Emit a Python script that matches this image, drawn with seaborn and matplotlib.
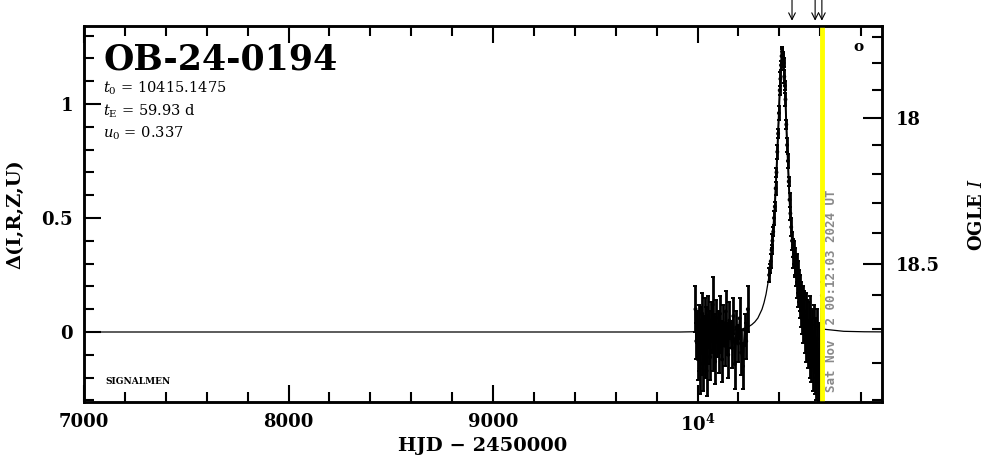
import numpy as np
import pandas as pd
import seaborn as sns
import matplotlib.pyplot as plt
from matplotlib.ticker import MultipleLocator, FixedLocator

# --- event info ---
event_name = "OB-24-0194"
t0_text = "10415.1475"
te_text = "59.93 d"
u0_text = "0.337"
now_hjd = 10611
now_label = "Sat Nov  2 00:12:03 2024 UT"
arrow_hjd = [10462, 10575, 10608]

# --- model curve ---
model_t = [7000, 9915, 10115, 10215, 10245, 10265, 10280, 10295, 10315, 10325,
           10335, 10345, 10355, 10365, 10375, 10380, 10385, 10390, 10395, 10400,
           10405, 10410, 10415, 10420, 10425, 10430, 10435, 10440, 10445, 10450,
           10455, 10465, 10475, 10485, 10495, 10505, 10515, 10535, 10550, 10565,
           10585, 10615, 10715, 10815, 10900]
model_d = [0.0, 0.0, 0.003, 0.0125, 0.021, 0.032, 0.044, 0.061, 0.099, 0.128,
           0.166, 0.218, 0.288, 0.384, 0.512, 0.592, 0.683, 0.785, 0.896, 1.011,
           1.117, 1.196, 1.225, 1.196, 1.117, 1.011, 0.896, 0.785, 0.683, 0.592,
           0.512, 0.384, 0.288, 0.218, 0.166, 0.128, 0.099, 0.061, 0.044, 0.032,
           0.021, 0.0125, 0.003, 0.001, 0.0005]

# --- observations: baseline season ---
base_t = [9990, 9994, 9998, 10002, 10005, 10008, 10011, 10014, 10017, 10020,
          10023, 10026, 10029, 10032, 10035, 10038, 10041, 10044, 10047, 10050,
          10054, 10058, 10062, 10066, 10070, 10074, 10078, 10082, 10086, 10090,
          10095, 10100, 10105, 10110, 10115, 10120, 10126, 10132, 10138, 10144,
          10150, 10156, 10162, 10168, 10175, 10182, 10190, 10198, 10206, 10214,
          10222, 10230, 10238, 10246]
base_d = [0.10, -0.04, 0.02, -0.12, -0.07, 0.05, -0.16, -0.02, 0.03, -0.09,
          0.08, -0.14, 0.00, -0.05, 0.06, -0.10, 0.04, -0.17, -0.01, 0.07,
          -0.06, 0.02, -0.11, 0.05, -0.03, 0.12, -0.08, 0.01, -0.13, 0.06,
          -0.04, 0.03, -0.09, 0.08, -0.02, -0.12, 0.04, -0.06, 0.09, -0.03,
          -0.10, 0.05, -0.01, -0.07, 0.07, -0.14, 0.02, -0.05, 0.06, -0.09,
          -0.15, 0.01, -0.04, 0.10]
base_e = [0.10, 0.08, 0.07, 0.09, 0.10, 0.07, 0.11, 0.06, 0.08, 0.10,
          0.09, 0.12, 0.07, 0.08, 0.09, 0.10, 0.07, 0.11, 0.06, 0.09,
          0.08, 0.07, 0.10, 0.08, 0.06, 0.12, 0.09, 0.07, 0.10, 0.08,
          0.07, 0.06, 0.09, 0.08, 0.07, 0.10, 0.08, 0.09, 0.09, 0.07,
          0.10, 0.08, 0.06, 0.09, 0.08, 0.11, 0.07, 0.08, 0.09, 0.10,
          0.10, 0.07, 0.08, 0.10]

# --- observations: event season ---
peak_t = [10350, 10354, 10358, 10362, 10366, 10370, 10374, 10378, 10382, 10386,
          10390, 10394, 10398, 10402, 10405, 10408, 10411, 10413, 10415, 10417,
          10419, 10421, 10424, 10427, 10430, 10434, 10438, 10442, 10446, 10450,
          10454, 10458, 10462,
          10466, 10469, 10472, 10475, 10478, 10481, 10484, 10487, 10490, 10493,
          10496, 10499, 10502, 10505, 10508, 10511, 10514, 10517, 10520, 10524,
          10528, 10532, 10536, 10540, 10544, 10548, 10552, 10556, 10560, 10564,
          10568, 10572, 10576, 10580, 10584, 10588, 10592, 10596, 10600, 10608]
peak_d = [0.25, 0.28, 0.31, 0.36, 0.40, 0.44, 0.50, 0.55, 0.63, 0.70,
          0.79, 0.87, 0.96, 1.06, 1.11, 1.17, 1.21, 1.23, 1.22, 1.21,
          1.19, 1.18, 1.12, 1.08, 1.02, 0.91, 0.82, 0.75, 0.66, 0.58,
          0.52, 0.46, 0.40,
          0.37, 0.33, 0.35, 0.29, 0.31, 0.25, 0.28, 0.21, 0.24, 0.17,
          0.20, 0.13, 0.17, 0.09, 0.14, 0.06, 0.11, 0.03, 0.09, -0.01,
          0.07, -0.04, 0.04, -0.07, 0.02, -0.10, 0.05, -0.12, -0.02, -0.15,
          0.00, -0.17, -0.06, -0.20, -0.03, -0.22, -0.08, -0.19, -0.12, 0.16]
peak_e = [0.03, 0.02, 0.03, 0.02, 0.03, 0.02, 0.03, 0.02, 0.03, 0.02,
          0.03, 0.02, 0.03, 0.02, 0.03, 0.02, 0.03, 0.02, 0.03, 0.02,
          0.03, 0.02, 0.03, 0.02, 0.03, 0.02, 0.03, 0.03, 0.02, 0.03,
          0.03, 0.04, 0.04,
          0.04, 0.05, 0.05, 0.05, 0.06, 0.05, 0.06, 0.06, 0.07, 0.06,
          0.07, 0.07, 0.08, 0.07, 0.08, 0.07, 0.09, 0.08, 0.09, 0.08,
          0.10, 0.09, 0.10, 0.09, 0.11, 0.10, 0.11, 0.10, 0.12, 0.11,
          0.12, 0.10, 0.12, 0.10, 0.13, 0.09, 0.12, 0.10, 0.14, 0.06]

# OGLE I scale on the right: I = I_base - 2.5 log10(fs*10^(0.4 d) + 1 - fs)
I_base = 18.71
fs = 0.67
mag_major = [18.0, 18.5]
mag_minor = [17.6, 17.7, 17.8, 17.9, 18.1, 18.2, 18.3, 18.4, 18.6, 18.7, 18.8, 18.9]


def mag_to_delta(m):
    m = np.asarray(m, dtype=float)
    return 2.5 * np.log10((10 ** (-0.4 * (m - I_base)) - (1 - fs)) / fs)


sns.set_theme(style="ticks")
plt.rcParams["font.family"] = ["DejaVu Serif"]
plt.rcParams["mathtext.fontset"] = "dejavuserif"
plt.rcParams["text.color"] = "black"
plt.rcParams["axes.labelcolor"] = "black"
plt.rcParams["xtick.color"] = "black"
plt.rcParams["ytick.color"] = "black"

fig = plt.figure(figsize=(9.86, 4.59), dpi=100)
ax = fig.add_axes([84 / 986, 57 / 459, 798 / 986, 376 / 459])

model = pd.DataFrame({"hjd": model_t, "delta": model_d})
sns.lineplot(data=model, x="hjd", y="delta", color="black", lw=0.9, ax=ax, zorder=2)

for tt, dd, ee in [(base_t, base_d, base_e), (peak_t, peak_d, peak_e)]:
    ax.errorbar(tt, dd, yerr=ee, fmt="-", color="black", lw=1.4,
                elinewidth=2.0, capsize=1.5, capthick=1.4, zorder=3)
    obs = pd.DataFrame({"hjd": tt, "delta": dd})
    sns.scatterplot(data=obs, x="hjd", y="delta", color="black", s=8,
                    edgecolor="none", ax=ax, zorder=4)

ax.axvline(now_hjd, color="#ffff00", lw=3.5, zorder=5)

ax.set_xlim(7000, 10902)
ax.set_ylim(-0.307, 1.342)

ax.set_xticks([7000, 8000, 9000, 10000])
ax.set_xticklabels(["7000", "8000", "9000", r"$\mathbf{10^4}$"])
ax.xaxis.set_minor_locator(MultipleLocator(200))
ax.set_yticks([0, 0.5, 1])
ax.set_yticklabels(["0", "0.5", "1"])
ax.yaxis.set_minor_locator(MultipleLocator(0.1))

ax.tick_params(axis="both", which="both", direction="in", top=True,
               right=False, width=1.5, labelsize=13)
ax.tick_params(axis="both", which="major", length=12, pad=8)
ax.tick_params(axis="both", which="minor", length=7)
for s in ax.spines.values():
    s.set_linewidth(1.8)
    s.set_color("black")
for lab in ax.get_xticklabels() + ax.get_yticklabels():
    lab.set_fontweight("bold")

ax.set_xlabel("HJD − 2450000", fontsize=14, fontweight="bold", labelpad=2)
ax.set_ylabel("Δ(I,R,Z,U)", fontsize=14, fontweight="bold", labelpad=12)

ax2 = ax.twinx()
ax2.set_ylim(ax.get_ylim())
ax2.yaxis.set_major_locator(FixedLocator(mag_to_delta(mag_major)))
ax2.yaxis.set_minor_locator(FixedLocator(mag_to_delta(mag_minor)))
ax2.set_yticklabels(["18", "18.5"], fontweight="bold")
ax2.tick_params(axis="y", which="both", direction="in", width=1.5, labelsize=13)
ax2.tick_params(axis="y", which="major", length=14, pad=10)
ax2.tick_params(axis="y", which="minor", length=7)
for s in ax2.spines.values():
    s.set_linewidth(1.8)
    s.set_color("black")
ax2.set_ylabel("OGLE $\\mathbf{\\mathit{I}}$", fontsize=13, fontweight="bold", labelpad=20)

# annotations
ax.text(0.024, 0.885, event_name, transform=ax.transAxes, fontsize=25,
        fontweight="bold", ha="left", va="baseline")
ax.text(0.024, 0.822, r"$t_0$ = " + t0_text, transform=ax.transAxes,
        fontsize=10.5, ha="left", va="baseline")
ax.text(0.024, 0.762, r"$t_\mathrm{E}$ = " + te_text, transform=ax.transAxes,
        fontsize=10.5, ha="left", va="baseline")
ax.text(0.024, 0.703, r"$u_0$ = " + u0_text, transform=ax.transAxes,
        fontsize=10.5, ha="left", va="baseline")
ax.text(0.027, 0.048, "SIGNALMEN", transform=ax.transAxes, fontsize=6.5,
        fontweight="bold", ha="left", va="baseline")
ax.text(0.970, 0.944, "o", transform=ax.transAxes, fontsize=11,
        fontweight="bold", ha="center", va="center")
ax.text(now_hjd + 42, -0.265, now_label, fontsize=9, fontweight="bold",
        family="DejaVu Sans Mono", color="#8a8a8a", rotation=90,
        rotation_mode="anchor", ha="left", va="center", zorder=6)

for t in arrow_hjd:
    ax.annotate("", xy=(t, 1.014), xytext=(t, 1.07),
                xycoords=("data", "axes fraction"),
                textcoords=("data", "axes fraction"),
                arrowprops=dict(arrowstyle="->", lw=0.8, color="black",
                                shrinkA=0, shrinkB=0),
                annotation_clip=False)

fig.savefig("out.png", dpi=100)
